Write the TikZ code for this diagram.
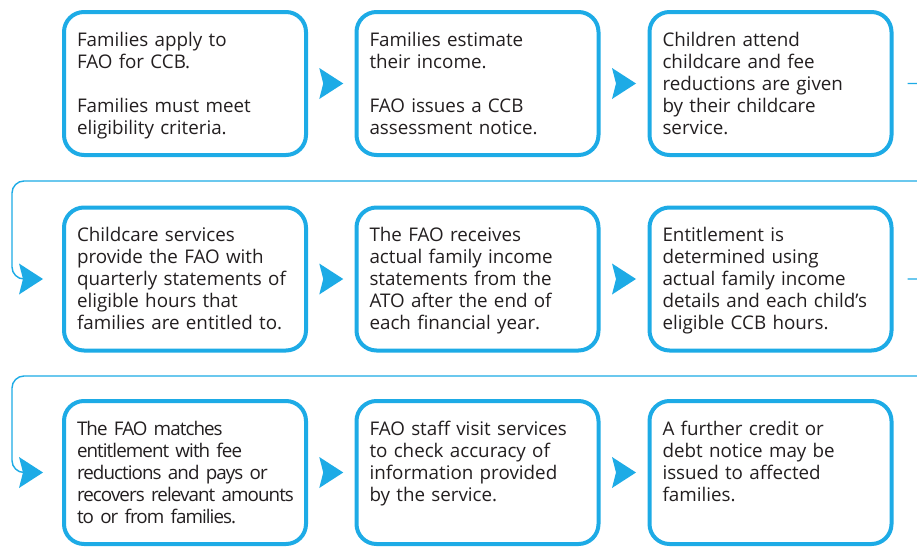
\documentclass[tikz,border=0pt]{standalone}
\usepackage{fontspec}
\setmainfont{Open Sans}
\usetikzlibrary{calc}
\definecolor{faoBlue}{RGB}{29,171,230}
\definecolor{faoInk}{RGB}{35,31,32}
\tikzstyle{stage}=[draw=faoBlue, line width=4pt, rounded corners=20pt, text width=216pt, inner xsep=13pt, inner ysep=14pt, text height=20pt, text depth=95pt, align=left, text=faoInk, font=\fontsize{18.8}{22}\selectfont]
\tikzstyle{tight}=[font=\fontsize{18.8}{22}\selectfont\addfontfeatures{LetterSpace=-5}]
\tikzstyle{loop}=[faoBlue, line width=1.4pt, rounded corners=12pt]
\newcommand{\cue}[1]{\fill[faoBlue] (#1) ++(-12,-15.5) -- ++(24,15.5) -- ++(-24,15.5) -- ++(4,-15.5) -- cycle;}

\begin{document}
\begin{tikzpicture}[x=1pt, y=-1pt]
				\clip (0,0) rectangle (917,546);
				\fill[white] (0,0) rectangle (917,546);

				% First row: applying and assessment
				\node[stage] (apply) at (185,83.5) {Families apply to\\FAO for CCB.\\[22pt]Families must meet\\eligibility criteria.};
				\node[stage] (estimate) at (477.5,83.5) {Families estimate\\their income.\\[22pt]FAO issues a CCB\\assessment notice.};
				\node[stage] (attend) at (770.5,83.5) {Children attend\\childcare and fee\\reductions are given\\by their childcare\\service.};

				% Second row: statements and entitlement
				\node[stage] (statements) at (185,279) {Childcare services\\provide the FAO with\\quarterly statements of\\eligible hours that\\families are entitled to.};
				\node[stage] (receive) at (477.5,279) {The FAO receives\\actual family income\\statements from the\\ATO after the end of\\each financial year.};
				\node[stage] (determine) at (770.5,279) {Entitlement is\\determined using\\actual family income\\details and each child's\\eligible CCB hours.};

				% Third row: reconciliation
				\node[stage, tight] (match) at (185,472.5) {The FAO matches\\entitlement with fee\\reductions and pays or\\\mbox{recovers relevant amounts}\\to or from families.};
				\node[stage] (visit) at (477.5,472.5) {FAO staff visit services\\to check accuracy of\\information provided\\by the service.};
				\node[stage] (notice) at (770.5,472.5) {A further credit or\\debt notice may be\\issued to affected\\families.};

				% arrowheads between neighbouring boxes
				\foreach \a/\b in {apply/estimate, estimate/attend, statements/receive, receive/determine, match/visit, visit/notice}{
					\cue{$(\a.east)!0.5!(\b.west)$}
				}

				% wrap round from the end of one row to the start of the next
				\foreach \a/\b/\gap in {attend/statements/181, determine/match/376}{
					\draw[loop] ([xshift=14pt]\a.east) -- ++(28,0) |- (12,\gap) |- ([xshift=-36pt]\b.west);
					\cue{[xshift=-31pt]\b.west}
				}
			\end{tikzpicture}
\end{document}
